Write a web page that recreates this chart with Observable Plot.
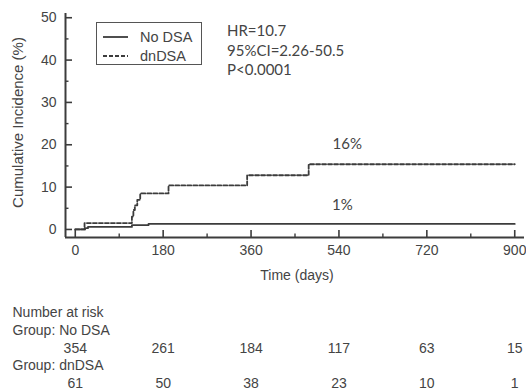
<!DOCTYPE html>
<html>
<head>
<meta charset="utf-8">
<script src="https://cdn.jsdelivr.net/npm/d3@7"></script>
<script src="https://cdn.jsdelivr.net/npm/@observablehq/plot@0.6"></script>
<style>
  body { margin: 0; background: #fff; }
  #wrap { position: relative; width: 526px; height: 392px; overflow: hidden; }
  .legend { position: absolute; left: 96px; top: 22px; width: 104px; height: 41px; border: 1px solid #555; font-family: "Liberation Sans", Arial, sans-serif; font-size: 14.5px; color: #444; }
  .legend .row { position: absolute; left: 0; height: 18px; width: 100%; }
  .legend svg { position: absolute; left: 6px; top: 0; }
  .legend span { position: absolute; left: 43px; top: 0; line-height: 18px; }
  .stats { position: absolute; left: 227px; top: 21px; font-family: Lato, "Open Sans", sans-serif; font-size: 15px; line-height: 19.5px; color: #444; }
</style>
</head>
<body>
<div id="wrap"></div>
<script>
// ---- data ----
const seriesNames = ["No DSA", "dnDSA"];
const noDsaDays = [0, 20, 26, 116, 150, 900];
const noDsaPct  = [0, 0.3, 0.6, 1.0, 1.3, 1.3];
const dnDsaDays = [0, 19, 116, 119, 122, 127, 133, 191, 352, 478, 900];
const dnDsaPct  = [0, 1.5, 3.0, 4.6, 5.7, 7.0, 8.5, 10.4, 12.8, 15.4, 15.4];
const xMajor = [0, 180, 360, 540, 720, 900];
const xMinor = [90, 270, 450, 630, 810];
const yMajor = [0, 10, 20, 30, 40, 50];
const yMinor = [5, 15, 25, 35, 45];
const riskDays = [0, 180, 360, 540, 720, 900];
const riskNoDsa = [354, 261, 184, 117, 63, 15];
const riskDnDsa = [61, 50, 38, 23, 10, 1];
const annoText = ["16%", "1%"];
const annoDay = [557, 547];
const annoPct = [20.1, 5.7];
const statsLines = ["HR=10.7", "95%CI=2.26-50.5", "P<0.0001"];

// ---- build ----
const ink = "#3c3c3c";
const noDsa = noDsaDays.map((d, i) => ({day: d, pct: noDsaPct[i]}));
const dnDsa = dnDsaDays.map((d, i) => ({day: d, pct: dnDsaPct[i]}));
const xDomain = [-20, 920];
const yDomain = [-1.9, 51];
const txt = {fill: "#444", lineAnchor: "middle"};

const plot = Plot.plot({
  width: 526, height: 392,
  marginLeft: 65, marginRight: 2, marginTop: 13, marginBottom: 155,
  style: {fontFamily: '"Liberation Sans", Arial, sans-serif', fontSize: "14px", color: "#444", background: "white"},
  x: {domain: xDomain},
  y: {domain: yDomain},
  marks: [
    Plot.ruleX([xDomain[0]], {stroke: ink, strokeWidth: 2}),
    Plot.ruleY([yDomain[0]], {stroke: ink, strokeWidth: 2}),
    Plot.axisX({ticks: xMajor, tickSize: -7, tickPadding: 15, label: null, stroke: ink, strokeWidth: 1.6, fill: "#444"}),
    Plot.axisX({ticks: xMinor, tickSize: -3.5, tickFormat: () => "", label: null, stroke: ink, strokeWidth: 1.4}),
    Plot.axisY({ticks: yMajor, tickSize: -7, tickPadding: 16, label: null, stroke: ink, strokeWidth: 1.6, fill: "#444"}),
    Plot.axisY({ticks: yMinor, tickSize: -3.5, tickFormat: () => "", label: null, stroke: ink, strokeWidth: 1.4}),
    Plot.line(noDsa, {x: "day", y: "pct", curve: "step-after", stroke: ink, strokeWidth: 1.8}),
    Plot.line(dnDsa, {x: "day", y: "pct", curve: "step-after", stroke: ink, strokeWidth: 1.8, strokeDasharray: "4,2"}),
    Plot.text(annoText, {x: (d, i) => annoDay[i], y: (d, i) => annoPct[i], text: d => d, fontFamily: "Lato, sans-serif", fontSize: 15, fill: "#444"}),
    Plot.text(["Cumulative Incidence (%)"], {...txt, frameAnchor: "left", textAnchor: "middle", rotate: -90, dx: -47, dy: -3, fontSize: 15}),
    Plot.text(["Time (days)"], {...txt, frameAnchor: "bottom", textAnchor: "middle", dy: 38, dx: 2, fontSize: 14}),
    Plot.text(["Number at risk"], {...txt, frameAnchor: "bottom-left", dx: -53, dy: 75, textAnchor: "start"}),
    Plot.text(["Group: " + seriesNames[0]], {...txt, frameAnchor: "bottom-left", dx: -53, dy: 93, textAnchor: "start"}),
    Plot.text(riskNoDsa, {...txt, x: (d, i) => riskDays[i], text: d => String(d), frameAnchor: "bottom", textAnchor: "middle", dy: 111}),
    Plot.text(["Group: " + seriesNames[1]], {...txt, frameAnchor: "bottom-left", dx: -53, dy: 128, textAnchor: "start"}),
    Plot.text(riskDnDsa, {...txt, x: (d, i) => riskDays[i], text: d => String(d), frameAnchor: "bottom", textAnchor: "middle", dy: 146})
  ]
});

const wrap = document.getElementById("wrap");
wrap.appendChild(plot);

// legend
const legend = document.createElement("div");
legend.className = "legend";
const dashes = ["none", "4,2"];
seriesNames.forEach((name, i) => {
  const row = document.createElement("div");
  row.className = "row";
  row.style.top = (5 + i * 19) + "px";
  row.innerHTML = `<svg width="26" height="18"><line x1="0" x2="25" y1="9" y2="9" stroke="${ink}" stroke-width="1.8" stroke-dasharray="${dashes[i]}"/></svg><span>${name}</span>`;
  legend.appendChild(row);
});
wrap.appendChild(legend);

// stats
const stats = document.createElement("div");
stats.className = "stats";
stats.innerHTML = statsLines.map(s => s.replace(/</g, "&lt;")).join("<br>");
wrap.appendChild(stats);
</script>
</body>
</html>
